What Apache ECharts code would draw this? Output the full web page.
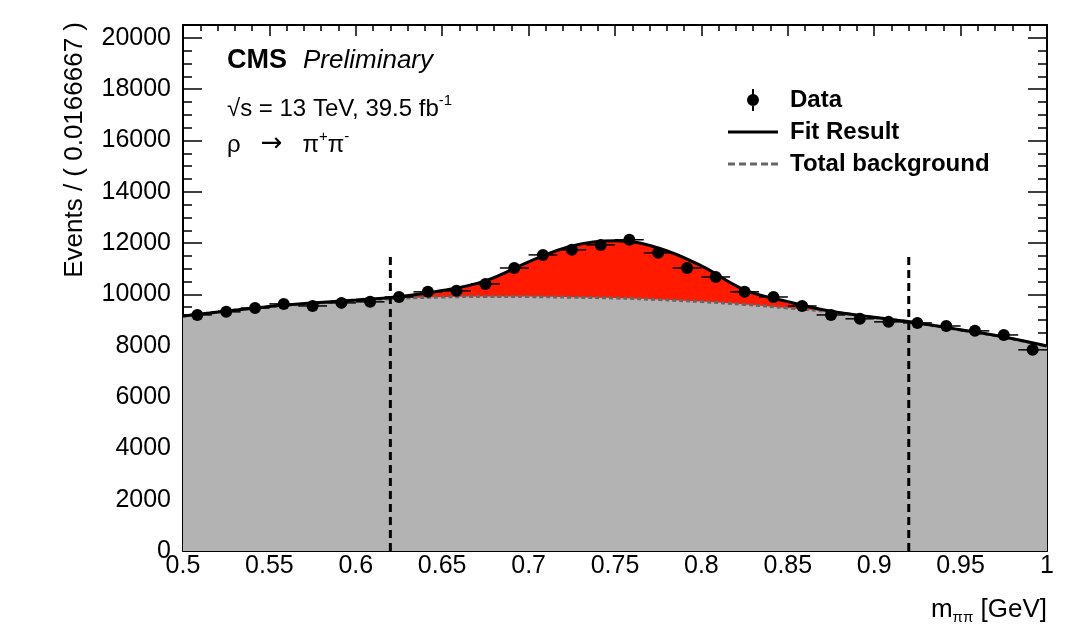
<!DOCTYPE html>
<html lang="en">
<head>
    <meta charset="UTF-8">
    <title>rho to pi pi mass fit</title>
    <script src="https://cdn.jsdelivr.net/npm/echarts@6/dist/echarts.min.js"></script>
</head>
<body style="margin: 0; background: #fff">
<div id="chart" style="width: 1091px; height: 630px"></div>
<script>
    // bin centres and event counts (bin width 1/60 GeV)
    let binWidth = 0.0166667
    let binCenters = [0.5083, 0.525, 0.5417, 0.5583, 0.575, 0.5917, 0.6083, 0.625, 0.6417, 0.6583,
        0.675, 0.6917, 0.7083, 0.725, 0.7417, 0.7583, 0.775, 0.7917, 0.8083, 0.825,
        0.8417, 0.8583, 0.875, 0.8917, 0.9083, 0.925, 0.9417, 0.9583, 0.975, 0.9917]
    let counts = [9200, 9320, 9470, 9630, 9550, 9670, 9710, 9900, 10100, 10140,
        10410, 11030, 11540, 11740, 11930, 12130, 11620, 11030, 10680, 10100,
        9900, 9550, 9200, 9050, 8930, 8890, 8770, 8580, 8420, 7840]

    // fit curve and background curve, sampled every 0.025 GeV
    let curveX = [0.5, 0.525, 0.55, 0.575, 0.6, 0.625, 0.65, 0.675, 0.7, 0.725, 0.75,
        0.775, 0.8, 0.825, 0.85, 0.875, 0.9, 0.925, 0.95, 0.975, 1.0]
    let fitCurve = [9160, 9350, 9530, 9665, 9786, 9910, 10150, 10530, 11270, 11890, 12090,
        11810, 11110, 10180, 9720, 9340, 9110, 8890, 8620, 8340, 7990]
    let bkgCurve = [9160, 9350, 9520, 9650, 9760, 9850, 9900, 9920, 9915, 9890, 9860,
        9800, 9720, 9610, 9474, 9320, 9100, 8880, 8610, 8330, 7980]

    // signal window edges
    let windowEdges = [0.62, 0.92]
    let windowTop = 11500

    let xTicks = {min: 0.5, max: 1, interval: 0.05}
    let yTicks = {min: 0, max: 20500, major: 2000, minor: 500}

    let fontName = '"Liberation Sans", Arial, sans-serif'

    function pairs(xs, ys) {
        return xs.map((x, i) => [x, ys[i]])
    }

    let chart = echarts.init(document.getElementById('chart'), null, {renderer: 'canvas'})

    let axisLine = {onZero: false, lineStyle: {color: '#000', width: 2}}
    let tickStyle = {color: '#000', width: 1.5}

    function xAxis(pos, labels) {
        return {
            type: 'value', position: pos, min: xTicks.min, max: xTicks.max, interval: xTicks.interval,
            axisLine: axisLine,
            axisTick: {inside: true, length: 11, lineStyle: tickStyle},
            minorTick: {show: true, splitNumber: 5, length: 6, lineStyle: tickStyle},
            splitLine: {show: false}, minorSplitLine: {show: false},
            axisLabel: labels ? {
                show: true, color: '#000', fontSize: 25, fontFamily: fontName, margin: 3,
                formatter: v => String(v)
            } : {show: false}
        }
    }

    function yAxis(pos, interval, tickLen, labels, line) {
        return {
            type: 'value', position: pos, min: yTicks.min, max: yTicks.max, interval: interval,
            axisLine: line ? axisLine : {show: false},
            axisTick: {inside: true, length: tickLen, lineStyle: tickStyle},
            splitLine: {show: false},
            axisLabel: labels ? {
                show: true, color: '#000', fontSize: 25, fontFamily: fontName, margin: 12,
                showMaxLabel: false,
                formatter: v => String(v)
            } : {show: false}
        }
    }

    let xBottom = xAxis('bottom', true)
    xBottom.name = '{a|m}{s|\u03c0\u03c0}{a| [GeV]}'
    xBottom.nameLocation = 'end'
    xBottom.nameGap = 0
    xBottom.nameTextStyle = {
        align: 'right', verticalAlign: 'top', padding: [46, 0, 0, 0],
        rich: {
            a: {fontSize: 26, fontFamily: fontName, color: '#000', verticalAlign: 'bottom'},
            s: {fontSize: 15, fontFamily: fontName, color: '#000', verticalAlign: 'bottom', padding: [0, 0, -2, 0]}
        }
    }

    // legend icons, drawn in a 57 x 24 box (the first two moves fix the box)
    let iconData = 'path://M0,0M57,24M24,1h2v22h-2zM31,12a6,6 0 1 1 -12,0a6,6 0 1 1 12,0z'
    let iconFit = 'path://M0,0M57,24M0,10.5h50v3h-50z'
    let iconBkg = 'path://M0,0M57,24M0,10.5h7v3h-7zM11,10.5h7v3h-7zM22,10.5h7v3h-7zM33,10.5h7v3h-7zM43,10.5h7v3h-7z'

    let textRich = {
        n: {fontSize: 24, fontFamily: fontName, fill: '#000', lineHeight: 28, verticalAlign: 'bottom'},
        ar: {fontSize: 26, fontFamily: '"DejaVu Sans", sans-serif', fill: '#000', lineHeight: 28, verticalAlign: 'bottom'},
        p: {fontSize: 15, fontFamily: fontName, fill: '#000', verticalAlign: 'top'}
    }

    let option = {
        animation: false,
        textStyle: {fontFamily: fontName},
        grid: {left: 183, right: 44, top: 25, bottom: 79, containLabel: false},
        xAxis: [xBottom, xAxis('top', false)],
        yAxis: [
            yAxis('left', yTicks.major, 19, true, true),
            yAxis('left', yTicks.minor, 9, false, false),
            yAxis('right', yTicks.major, 19, false, true),
            yAxis('right', yTicks.minor, 9, false, false)
        ],
        legend: {
            left: 723, top: 83, orient: 'vertical',
            itemWidth: 57, itemHeight: 24, itemGap: 8,
            textStyle: {fontSize: 24, fontWeight: 'bold', color: '#000', fontFamily: fontName},
            itemStyle: {borderWidth: 0},
            selectedMode: false,
            data: [
                {name: 'Data', icon: iconData, itemStyle: {color: '#000'}},
                {name: 'Fit Result', icon: iconFit, itemStyle: {color: '#000'}},
                {name: 'Total background', icon: iconBkg, itemStyle: {color: '#666'}}
            ]
        },
        graphic: [
            {
                type: 'text', left: 227, top: 47,
                style: {text: 'CMS', font: 'bold 27px ' + fontName, fill: '#000'}
            },
            {
                type: 'text', left: 303, top: 48,
                style: {text: 'Preliminary', font: 'italic 26px ' + fontName, fill: '#000'}
            },
            {
                type: 'text', left: 227, top: 93,
                style: {text: '{n|\u221as = 13 TeV, 39.5 fb}{p|-1}', rich: textRich}
            },
            {
                type: 'text', left: 227, top: 129,
                style: {text: '{n|\u03c1   }{ar|\u2192}{n|   \u03c0}{p|+}{n|\u03c0}{p|-}', rich: textRich}
            },
            {
                type: 'text', x: 75, y: 22, rotation: Math.PI / 2,
                style: {
                    text: 'Events / ( 0.0166667 )', font: '26px ' + fontName, fill: '#000',
                    align: 'right', verticalAlign: 'middle'
                }
            }
        ],
        series: [
            {
                // signal region: fit curve filled in red, background drawn over it
                name: 'signal', type: 'line', smooth: 0.4, showSymbol: false, z: 1,
                data: pairs(curveX, fitCurve),
                lineStyle: {width: 0},
                areaStyle: {color: '#ff1a00', opacity: 1}
            },
            {
                name: 'Total background', type: 'line', smooth: 0.4, showSymbol: false, z: 2,
                data: pairs(curveX, bkgCurve),
                lineStyle: {color: '#666', width: 3, type: [4, 3]},
                itemStyle: {color: '#666'},
                areaStyle: {color: '#b3b3b3', opacity: 1}
            },
            {
                name: 'window low', type: 'line', showSymbol: false, z: 3,
                data: [[windowEdges[0], 0], [windowEdges[0], windowTop]],
                lineStyle: {color: '#000', width: 3, type: [8, 5]}
            },
            {
                name: 'window high', type: 'line', showSymbol: false, z: 3,
                data: [[windowEdges[1], 0], [windowEdges[1], windowTop]],
                lineStyle: {color: '#000', width: 3, type: [8, 5]}
            },
            {
                name: 'Fit Result', type: 'line', smooth: 0.4, showSymbol: false, z: 4,
                data: pairs(curveX, fitCurve),
                itemStyle: {color: '#000'},
                lineStyle: {color: '#000', width: 3}
            },
            {
                name: 'Data', type: 'custom', z: 5,
                data: pairs(binCenters, counts),
                itemStyle: {color: '#000'},
                renderItem: function (params, api) {
                    let x = api.value(0)
                    let y = api.value(1)
                    let err = Math.sqrt(y)
                    let c = api.coord([x, y])
                    let l = api.coord([x - binWidth / 2, y])
                    let r = api.coord([x + binWidth / 2, y])
                    let t = api.coord([x, y + err])
                    let b = api.coord([x, y - err])
                    return {
                        type: 'group',
                        children: [
                            {type: 'line', shape: {x1: l[0], y1: c[1], x2: r[0], y2: c[1]}, style: {stroke: '#000', lineWidth: 1.5}},
                            {type: 'line', shape: {x1: c[0], y1: t[1], x2: c[0], y2: b[1]}, style: {stroke: '#000', lineWidth: 1.5}},
                            {type: 'circle', shape: {cx: c[0], cy: c[1], r: 6}, style: {fill: '#000'}}
                        ]
                    }
                }
            }
        ]
    };
    chart.setOption(option);
</script>
</body>
</html>
